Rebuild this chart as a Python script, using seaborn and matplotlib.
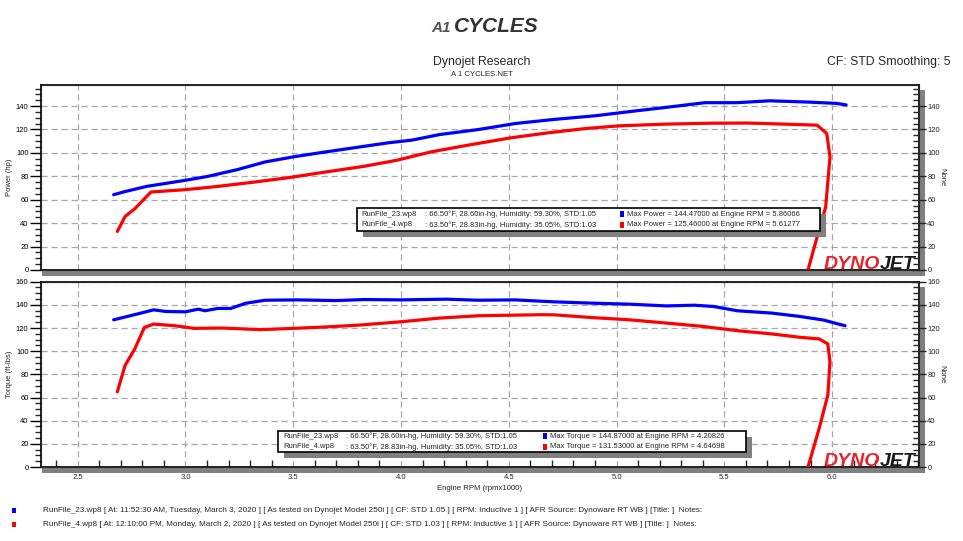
import matplotlib
matplotlib.use("Agg")
import matplotlib.pyplot as plt
from matplotlib.patches import Rectangle
from matplotlib.ticker import MultipleLocator
import pandas as pd
import seaborn as sns

# Datos (rpm x1000)
rpm_hp_23 = [2.667, 2.72, 2.82, 3.0, 3.105, 3.24, 3.37, 3.5, 3.63, 3.79, 3.94, 4.05, 4.18,
             4.36, 4.53, 4.71, 4.90, 5.08, 5.23, 5.41, 5.56, 5.71, 5.89, 6.02, 6.065]
hp_23 = [64.3, 67.0, 71.4, 76.6, 80.0, 85.7, 92.3, 96.6, 100.3, 104.6, 108.6, 110.9, 115.7,
         120.0, 125.1, 128.6, 131.7, 135.7, 138.9, 142.9, 142.9, 144.5, 143.4, 142.3, 141.0]

rpm_hp_4 = [2.684, 2.72, 2.765, 2.84, 3.0, 3.15, 3.32, 3.48, 3.65, 3.83, 3.98, 4.14, 4.31,
            4.51, 4.68, 4.86, 5.01, 5.23, 5.45, 5.61, 5.83, 5.93, 5.975, 5.99, 5.97, 5.93, 5.888]
hp_4 = [32.9, 45.7, 52.3, 66.6, 68.6, 71.4, 75.1, 78.9, 83.7, 88.6, 93.7, 100.9, 106.6,
        112.9, 117.1, 120.9, 123.1, 124.6, 125.4, 125.5, 124.3, 123.7, 116.6, 96.6, 53.7, 28.0, 0.0]

rpm_tq_23 = [2.667, 2.755, 2.853, 2.908, 3.0, 3.06, 3.09, 3.15, 3.21, 3.28, 3.37, 3.52, 3.70,
             3.83, 4.0, 4.21, 4.36, 4.53, 4.71, 4.90, 5.06, 5.23, 5.36, 5.45, 5.56, 5.72,
             5.85, 5.96, 6.03, 6.06]
tq_23 = [127.1, 131.1, 135.7, 134.3, 134.0, 136.3, 134.9, 136.9, 136.9, 141.4, 144.0, 144.3,
         143.7, 144.6, 144.3, 144.9, 144.0, 144.3, 142.6, 141.4, 140.6, 139.1, 139.7, 138.6,
         134.9, 132.9, 130.0, 126.9, 123.4, 122.0]

rpm_tq_4 = [2.684, 2.72, 2.765, 2.81, 2.853, 2.95, 3.04, 3.17, 3.35, 3.5, 3.65, 3.81, 4.0,
            4.18, 4.36, 4.65, 4.71, 4.88, 5.06, 5.23, 5.40, 5.56, 5.72, 5.85, 5.94, 5.98,
            5.99, 5.98, 5.94, 5.888]
tq_4 = [64.9, 87.7, 102.0, 120.6, 123.4, 122.0, 119.7, 120.0, 118.6, 119.7, 120.9, 122.6, 125.4,
        128.6, 130.6, 131.5, 131.4, 129.1, 127.1, 124.3, 121.4, 117.7, 114.9, 112.0, 110.6, 106.3,
        90.6, 62.0, 33.4, 0.0]

archivos = ["RunFile_23.wp8", "RunFile_4.wp8"]
condiciones = [": 66.50\u00b0F, 28.60in-hg, Humidity: 59.30%, STD:1.05",
               ": 63.50\u00b0F, 28.83in-hg, Humidity: 35.05%, STD:1.03"]
max_power = ["Max Power = 144.47000 at Engine RPM = 5.86066",
             "Max Power = 125.46000 at Engine RPM = 5.61277"]
max_torque = ["Max Torque = 144.87000 at Engine RPM = 4.20826",
              "Max Torque = 131.53000 at Engine RPM = 4.64698"]
pie = ["RunFile_23.wp8 [ At: 11:52:30 AM, Tuesday, March 3, 2020 ] [ As tested on Dynojet Model 250i ] "
       "[ CF: STD 1.05 ] [ RPM: Inductive 1 ] [ AFR Source: Dynoware RT WB ] [Title: ]  Notes:",
       "RunFile_4.wp8 [ At: 12:10:00 PM, Monday, March 2, 2020 ] [ As tested on Dynojet Model 250i ] "
       "[ CF: STD 1.03 ] [ RPM: Inductive 1 ] [ AFR Source: Dynoware RT WB ] [Title: ]  Notes:"]
colores = ["#0000ff", "#ff0000"]

sns.set_style("white")
plt.rcParams["font.family"] = ["Liberation Sans", "DejaVu Sans"]

W, H = 963, 541
fig = plt.figure(figsize=(W / 100, H / 100), dpi=100)


# Convierte pixeles a coordenadas de figura
def fx(px):
    return px / W


def fy(py):
    return 1 - py / H


def caja(x0, y0, x1, y1, **kw):
    fig.patches.append(Rectangle((fx(x0), fy(y1)), fx(x1) - fx(x0), fy(y0) - fy(y1),
                                 transform=fig.transFigure, figure=fig, **kw))


def panel(top, bottom, ymax, ylabel, series, leyenda, logo_y, ticks_x):
    # Sombra gris detras del panel
    caja(42, top + 5, 925, bottom + 6, facecolor="#808080", edgecolor="none", zorder=0)
    ax = fig.add_axes([fx(41), fy(bottom), fx(919) - fx(41), fy(top) - fy(bottom)], zorder=2)
    ax.set_facecolor("white")
    for (rpm, val), c in zip(series, colores):
        df = pd.DataFrame({"rpm": rpm, "val": val})
        sns.lineplot(data=df, x="rpm", y="val", sort=False, estimator=None, color=c,
                     lw=2.3, ax=ax, zorder=3)
    ax.set_xlim(2.33, 6.403)
    ax.set_ylim(0, ymax)
    ax.xaxis.set_major_locator(MultipleLocator(0.5))
    ax.yaxis.set_minor_locator(MultipleLocator(5))
    ax.set_yticks(range(0, 161 if ymax >= 160 else 141, 20))
    ax.grid(True, which="major", color="#a8a8a8", linestyle=(0, (5, 3)), linewidth=0.9)
    for s in ax.spines.values():
        s.set_color("black")
        s.set_linewidth(1.2)
    ax.tick_params(axis="y", which="major", direction="out", length=8, width=1,
                   labelsize=5.5, pad=1, colors="black")
    ax.tick_params(axis="y", which="minor", direction="out", length=4, width=1, left=True)
    if ticks_x:
        ax.xaxis.set_minor_locator(MultipleLocator(0.1))
        ax.tick_params(axis="x", which="major", direction="in", length=0, labelsize=5.5, pad=5)
        ax.tick_params(axis="x", which="minor", direction="in", length=5, width=1, bottom=True)
    else:
        ax.tick_params(axis="x", which="both", length=0, labelbottom=False)
    ax.set_xlabel("")
    ax.set_ylabel(ylabel, fontsize=5.5)
    ax.yaxis.set_label_coords(-0.032, 0.5)

    # Eje derecho
    ax2 = ax.twinx()
    ax2.set_ylim(0, ymax)
    ax2.set_yticks(ax.get_yticks())
    ax2.yaxis.set_minor_locator(MultipleLocator(5))
    ax2.tick_params(axis="y", which="major", direction="inout", length=10, width=1,
                    labelsize=5.5, pad=1)
    ax2.tick_params(axis="y", which="minor", direction="in", length=4, width=1, right=True)
    ax2.grid(False)
    ax2.set_ylabel("None", fontsize=5.5, rotation=270)
    ax2.yaxis.set_label_coords(1.03, 0.5)

    # Logo DYNOJET
    fig.text(fx(880), fy(logo_y), "DYNO", ha="right", va="baseline", fontsize=14,
             fontweight="bold", style="italic", color="#e8232f", zorder=5)
    fig.text(fx(880), fy(logo_y), "JET", ha="left", va="baseline", fontsize=14,
             fontweight="bold", style="italic", color="#1a1a1a", zorder=5)

    # Cuadro de leyenda
    x0, y0, x1, y1, xa, xb, xc, filas, textos = leyenda
    caja(x0 + 6, y0 + 6, x1 + 6, y1 + 6, facecolor="#808080", edgecolor="none", zorder=6)
    caja(x0, y0, x1, y1, facecolor="white", edgecolor="black", linewidth=1.2, zorder=7)
    for i, yy in enumerate(filas):
        fig.text(fx(xa), fy(yy), archivos[i], fontsize=5.5, va="center", zorder=8)
        fig.text(fx(xb), fy(yy), condiciones[i], fontsize=5.5, va="center", zorder=8)
        caja(xc - 7, yy - 3, xc - 3, yy + 3, facecolor=colores[i], edgecolor="none", zorder=8)
        fig.text(fx(xc), fy(yy), textos[i], fontsize=5.5, va="center", zorder=8)
    return ax


panel(85, 270, 158, "Power (hp)", [(rpm_hp_23, hp_23), (rpm_hp_4, hp_4)],
      (357, 208, 820, 231, 361, 425, 627, [214, 225], max_power), 269, False)
panel(281.7, 467, 160, "Torque (ft-lbs)", [(rpm_tq_23, tq_23), (rpm_tq_4, tq_4)],
      (278, 431, 746, 452, 283, 346, 550, [436, 447], max_torque), 466, True)

# Encabezado
fig.text(fx(441), fy(28), "A1", ha="center", va="center", fontsize=11, fontweight="bold",
         style="italic", color="#555555")
fig.text(fx(496), fy(27), "CYCLES", ha="center", va="center", fontsize=15, fontweight="heavy",
         style="italic", color="#333333")
fig.text(fx(482), fy(62), "Dynojet Research", ha="center", va="center", fontsize=8.8)
fig.text(fx(482), fy(75), "A 1 CYCLES.NET", ha="center", va="center", fontsize=5.6)
fig.text(fx(950), fy(62), "CF: STD Smoothing: 5", ha="right", va="center", fontsize=8.8)
fig.text(fx(480), fy(489), "Engine RPM (rpmx1000)", ha="center", va="center", fontsize=5.6)

# Pie con los archivos
for i, yy in enumerate([511, 525]):
    caja(12, yy - 3, 16, yy + 2, facecolor=colores[i], edgecolor="none")
    fig.text(fx(43), fy(yy), pie[i], fontsize=5.9, va="center")

fig.savefig("out.png", dpi=100, facecolor="white")
